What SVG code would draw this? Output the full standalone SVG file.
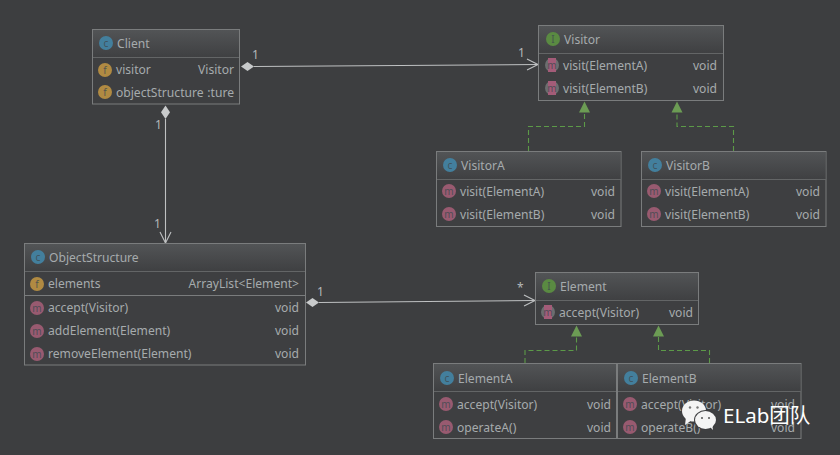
<svg xmlns="http://www.w3.org/2000/svg" width="840" height="455" viewBox="0 0 840 455">
<style>
text{font-family:"Noto Sans",sans-serif;font-size:12.1px;fill:#a6abad}
.box{fill:#3e3f41;stroke:#7a7c7d;stroke-width:1}
.head{fill:url(#hg)}
.sep{stroke:#636566;stroke-width:1;fill:none}
.sep2{stroke:#7a7c7d;stroke-width:1;fill:none}
.r{text-anchor:end}
.ic{font-size:10px;text-anchor:middle;fill:#3f4a50;fill-opacity:.85}
.c{fill:#437f9d}.f{fill:#b08a42}.m{fill:#985a70}.i{fill:#5a8a42}
.mab{fill:#6c6e70}.mar{fill:#a35c78}
.rel{stroke:#bfc1c2;stroke-width:1.1;fill:none}
.real{stroke:#5c9a48;stroke-width:1.1;fill:none;stroke-dasharray:5 3}
.tri{fill:#6c9c54}
.dia{fill:#c8cacb}
.lb{font-size:12px;fill:#b5b8b9}
.wm{font-size:20.5px;fill:#fff;font-family:"Noto Sans","Noto Sans CJK SC",sans-serif}
</style>
<defs>
<linearGradient id="hg" x1="0" y1="0" x2="0" y2="1"><stop offset="0" stop-color="#525456"/><stop offset="1" stop-color="#3f4042"/></linearGradient>
<marker id="open" markerUnits="userSpaceOnUse" markerWidth="14" markerHeight="14" refX="12" refY="7" orient="auto"><path d="M1 1.500L12 7L1 12.500" fill="none" stroke="#bfc1c2" stroke-width="1.100"/></marker>
</defs>
<rect width="840" height="455" fill="#3d3e40"/>
<g id="connectors">
<path class="rel" d="M254 66.500L538 64.500" marker-end="url(#open)"/>
<path class="dia" d="M241 66.500L247.500 62L254 66.500L247.500 71Z"/>
<path class="rel" d="M165.500 119V243" marker-end="url(#open)"/>
<path class="dia" d="M165.500 105.500L170 112.300L165.500 119L161 112.300Z"/>
<path class="rel" d="M319 302.500L535 300.500" marker-end="url(#open)"/>
<path class="dia" d="M306 302.500L312.500 298L319 302.500L312.500 307Z"/>
<path class="real" d="M528.500 151V126.500H584.500V112"/>
<path class="tri" d="M584.500 101.500L590 112.500H579Z"/>
<path class="real" d="M733.500 151V126.500H677V112"/>
<path class="tri" d="M677 101.500L682.500 112.500H671.500Z"/>
<path class="real" d="M525 363V350.500H576.500V336"/>
<path class="tri" d="M576.500 325.500L582 336.500H571Z"/>
<path class="real" d="M709.500 363V350.500H658.500V336"/>
<path class="tri" d="M658.500 325.500L664 336.500H653Z"/>
<text class="lb" x="252" y="59">1</text>
<text class="lb" x="518" y="57">1</text>
<text class="lb" x="155" y="129">1</text>
<text class="lb" x="154" y="228">1</text>
<text class="lb" x="317" y="296">1</text>
<text class="lb" x="517" y="292">*</text>
</g>
<g id="client">
<rect class="box" x="92.500" y="29.500" width="147" height="74.500"/>
<rect class="head" x="93" y="30" width="146" height="27"/>
<path class="sep" d="M93 57.500H239"/>
<circle class="c" cx="106" cy="43" r="7"/><text class="ic" x="106" y="46.500">c</text>
<text x="117" y="48">Client</text>
<circle class="f" cx="105" cy="70" r="7"/><text class="ic" x="105" y="73.500">f</text>
<text x="116" y="74">visitor</text><text class="r" x="234" y="74">Visitor</text>
<circle class="f" cx="105" cy="92" r="7"/><text class="ic" x="105" y="95.500">f</text>
<text x="116" y="97">objectStructure</text><text class="r" x="234" y="97">:ture</text>
</g>
<g id="visitor">
<rect class="box" x="538.500" y="25.500" width="185" height="75"/>
<rect class="head" x="539" y="26" width="184" height="27"/>
<path class="sep" d="M539 53.500H723"/>
<circle class="i" cx="553" cy="39" r="7"/><text class="ic" x="553" y="42.500">I</text>
<text x="564" y="44">Visitor</text>
<circle class="mab" cx="552" cy="65" r="7"/><rect class="mar" x="548" y="58" width="8" height="14"/><text class="ic" x="552" y="68.500">m</text>
<text x="563" y="70">visit(ElementA)</text><text class="r" x="717" y="70">void</text>
<circle class="mab" cx="552" cy="88" r="7"/><rect class="mar" x="548" y="81" width="8" height="14"/><text class="ic" x="552" y="91.500">m</text>
<text x="563" y="93">visit(ElementB)</text><text class="r" x="717" y="93">void</text>
</g>
<g id="visitorA">
<rect class="box" x="436.500" y="151.500" width="184.500" height="75"/>
<rect class="head" x="437" y="152" width="183.500" height="27"/>
<path class="sep" d="M437 179.500H621"/>
<circle class="c" cx="450" cy="165" r="7"/><text class="ic" x="450" y="168.500">c</text>
<text x="461" y="170">VisitorA</text>
<circle class="m" cx="449" cy="191" r="7"/><text class="ic" x="449" y="194.500">m</text>
<text x="460" y="196">visit(ElementA)</text><text class="r" x="615" y="196">void</text>
<circle class="m" cx="449" cy="214" r="7"/><text class="ic" x="449" y="217.500">m</text>
<text x="460" y="219">visit(ElementB)</text><text class="r" x="615" y="219">void</text>
</g>
<g id="visitorB">
<rect class="box" x="641.500" y="151.500" width="184.500" height="75"/>
<rect class="head" x="642" y="152" width="183.500" height="27"/>
<path class="sep" d="M642 179.500H826"/>
<circle class="c" cx="655" cy="165" r="7"/><text class="ic" x="655" y="168.500">c</text>
<text x="666" y="170">VisitorB</text>
<circle class="m" cx="654" cy="191" r="7"/><text class="ic" x="654" y="194.500">m</text>
<text x="665" y="196">visit(ElementA)</text><text class="r" x="820" y="196">void</text>
<circle class="m" cx="654" cy="214" r="7"/><text class="ic" x="654" y="217.500">m</text>
<text x="665" y="219">visit(ElementB)</text><text class="r" x="820" y="219">void</text>
</g>
<g id="objectStructure">
<rect class="box" x="24.500" y="243.500" width="281" height="121.500"/>
<rect class="head" x="25" y="244" width="280" height="27"/>
<path class="sep" d="M25 271.500H305"/><path class="sep2" d="M25 295.500H305"/>
<circle class="c" cx="38" cy="257" r="7"/><text class="ic" x="38" y="260.500">c</text>
<text x="49" y="262">ObjectStructure</text>
<circle class="f" cx="37" cy="284" r="7"/><text class="ic" x="37" y="287.500">f</text>
<text x="48" y="288">elements</text><text class="r" x="299" y="288">ArrayList&lt;Element&gt;</text>
<circle class="m" cx="37" cy="308" r="7"/><text class="ic" x="37" y="311.500">m</text>
<text x="48" y="312">accept(Visitor)</text><text class="r" x="299" y="312">void</text>
<circle class="m" cx="37" cy="331" r="7"/><text class="ic" x="37" y="334.500">m</text>
<text x="48" y="335">addElement(Element)</text><text class="r" x="299" y="335">void</text>
<circle class="m" cx="37" cy="354" r="7"/><text class="ic" x="37" y="357.500">m</text>
<text x="48" y="358">removeElement(Element)</text><text class="r" x="299" y="358">void</text>
</g>
<g id="element">
<rect class="box" x="535.500" y="272.500" width="163" height="52"/>
<rect class="head" x="536" y="273" width="162" height="27"/>
<path class="sep" d="M536 300.500H698"/>
<circle class="i" cx="549" cy="286" r="7"/><text class="ic" x="549" y="289.500">I</text>
<text x="560" y="291">Element</text>
<circle class="mab" cx="548" cy="312" r="7"/><rect class="mar" x="544" y="305" width="8" height="14"/><text class="ic" x="548" y="315.500">m</text>
<text x="559" y="317">accept(Visitor)</text><text class="r" x="693" y="317">void</text>
</g>
<g id="elementA">
<rect class="box" x="433.500" y="363.500" width="183" height="75"/>
<rect class="head" x="434" y="364" width="182" height="27"/>
<path class="sep" d="M434 391.500H616"/>
<circle class="c" cx="447" cy="378" r="7"/><text class="ic" x="447" y="381.500">c</text>
<text x="458" y="383">ElementA</text>
<circle class="m" cx="446" cy="404" r="7"/><text class="ic" x="446" y="407.500">m</text>
<text x="457" y="409">accept(Visitor)</text><text class="r" x="611" y="409">void</text>
<circle class="m" cx="446" cy="427" r="7"/><text class="ic" x="446" y="430.500">m</text>
<text x="457" y="432">operateA()</text><text class="r" x="611" y="432">void</text>
</g>
<g id="elementB">
<rect class="box" x="617.500" y="363.500" width="183.500" height="75"/>
<rect class="head" x="618" y="364" width="182.500" height="27"/>
<path class="sep" d="M618 391.500H801"/>
<circle class="c" cx="631" cy="378" r="7"/><text class="ic" x="631" y="381.500">c</text>
<text x="642" y="383">ElementB</text>
<circle class="m" cx="630" cy="404" r="7"/><text class="ic" x="630" y="407.500">m</text>
<text x="641" y="409">accept(Visitor)</text><text class="r" x="795" y="409">void</text>
<circle class="m" cx="630" cy="427" r="7"/><text class="ic" x="630" y="430.500">m</text>
<text x="641" y="432">operateB()</text><text class="r" x="795" y="432">void</text>
</g>
<g id="watermark">
<ellipse cx="694" cy="411" rx="12" ry="10.500" fill="#f4f4f4"/>
<path d="M686 417L685 425L692 420Z" fill="#f4f4f4"/>
<ellipse cx="705.500" cy="420" rx="11.500" ry="10" fill="#3d3e40"/>
<ellipse cx="705.500" cy="420" rx="10.500" ry="9" fill="#f4f4f4"/>
<path d="M709 426L713 430L712 423Z" fill="#f4f4f4"/>
<circle cx="690" cy="407.500" r="1.200" fill="#777"/><circle cx="697.500" cy="407.500" r="1.200" fill="#777"/>
<circle cx="702" cy="418" r="1" fill="#555"/><circle cx="709" cy="418" r="1" fill="#555"/>
<text class="wm" x="723" y="423">ELab团队</text>
</g>
</svg>
